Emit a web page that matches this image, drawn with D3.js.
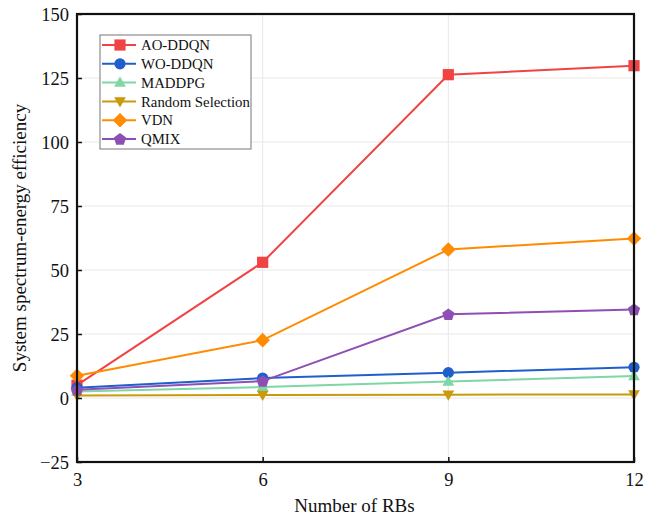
<!DOCTYPE html>
<html>
<head>
<meta charset="utf-8">
<script src="https://cdn.jsdelivr.net/npm/d3@7"></script>
<style>
  body { margin: 0; background: #fff; }
  svg text { font-family: "Liberation Serif", "Times New Roman", serif; fill: #111; }
</style>
</head>
<body>
<svg id="chart" width="657" height="519"></svg>
<script>
// Number of resource blocks on the x axis
const rbs = [3, 6, 9, 12];

// System spectrum-energy efficiency for each scheme
const aoDdqn   = [5.0, 53.0, 126.3, 129.8];
const woDdqn   = [4.0, 7.8, 9.9, 12.0];
const maddpg   = [2.5, 4.3, 6.4, 8.6];
const randomSel = [1.0, 1.2, 1.3, 1.4];
const vdn      = [8.7, 22.6, 58.0, 62.3];
const qmix     = [3.2, 6.6, 32.7, 34.6];

const seriesNames = ["AO-DDQN", "WO-DDQN", "MADDPG", "Random Selection", "VDN", "QMIX"];
const seriesValues = [aoDdqn, woDdqn, maddpg, randomSel, vdn, qmix];
const seriesColors = ["#f04444", "#1f5fcc", "#7fd6a6", "#c99a0c", "#ff8c00", "#8e4fb5"];
const seriesSymbols = ["square", "circle", "triUp", "triDown", "diamond", "pentagon"];

const yTicks = [-25, 0, 25, 50, 75, 100, 125, 150];
const xTicks = [3, 6, 9, 12];

const svg = d3.select("#chart");
const plotLeft = 77, plotRight = 634, plotTop = 14, plotBottom = 462;

const x = d3.scaleLinear().domain([3, 12]).range([plotLeft, plotRight]);
const y = d3.scaleLinear().domain([-25, 150]).range([plotBottom, plotTop]);

// Marker shapes; the size argument is the half-extent in pixels
function polygon(points) {
  return {
    draw(ctx, r) {
      points.forEach(([px, py], i) => {
        if (i === 0) ctx.moveTo(px * r, py * r); else ctx.lineTo(px * r, py * r);
      });
      ctx.closePath();
    }
  };
}
const pentPts = d3.range(5).map(i => {
  const a = -Math.PI / 2 + i * 2 * Math.PI / 5;
  return [Math.cos(a), Math.sin(a)];
});
const shapes = {
  square: polygon([[-1, -1], [1, -1], [1, 1], [-1, 1]]),
  circle: { draw(ctx, r) { ctx.moveTo(r, 0); ctx.arc(0, 0, r, 0, 2 * Math.PI); } },
  triUp: polygon([[0, -1.1], [1.05, 0.75], [-1.05, 0.75]]),
  triDown: polygon([[0, 1.1], [1.05, -0.75], [-1.05, -0.75]]),
  diamond: polygon([[0, -1.3], [1.3, 0], [0, 1.3], [-1.3, 0]]),
  pentagon: polygon(pentPts.map(([a, b]) => [a * 1.15, b * 1.15 + 0.1]))
};
const markerR = 5.6;
const marker = k => d3.symbol().type(shapes[seriesSymbols[k]]).size(markerR)();

// Gridlines
const grid = svg.append("g");
grid.selectAll("line.h").data(yTicks.filter(t => t > -25 && t < 150)).join("line")
  .attr("class", "h")
  .attr("x1", plotLeft).attr("x2", plotRight)
  .attr("y1", d => y(d)).attr("y2", d => y(d))
  .attr("stroke", "#e8e8e8").attr("stroke-width", 1);
grid.selectAll("line.v").data(xTicks.filter(t => t > 3 && t < 12)).join("line")
  .attr("class", "v")
  .attr("x1", d => x(d)).attr("x2", d => x(d))
  .attr("y1", plotTop).attr("y2", plotBottom)
  .attr("stroke", "#e8e8e8").attr("stroke-width", 1);

// Series lines and markers
const line = d3.line().x((d, i) => x(rbs[i])).y(d => y(d));
seriesValues.forEach((vals, k) => {
  const g = svg.append("g");
  g.append("path").datum(vals)
    .attr("d", line)
    .attr("fill", "none")
    .attr("stroke", seriesColors[k])
    .attr("stroke-width", 2);
  g.selectAll("path.m").data(vals).join("path")
    .attr("class", "m")
    .attr("transform", (d, i) => `translate(${x(rbs[i])},${y(d)})`)
    .attr("d", marker(k))
    .attr("fill", seriesColors[k]);
});

// Axes
const yAxis = d3.axisLeft(y).tickValues(yTicks).tickSize(-5).tickPadding(8).tickFormat(d3.format("d"));
const xAxis = d3.axisBottom(x).tickValues(xTicks).tickSize(-5).tickPadding(9);

const gy = svg.append("g").attr("transform", `translate(${plotLeft},0)`).call(yAxis);
const gx = svg.append("g").attr("transform", `translate(0,${plotBottom})`).call(xAxis);
[gx, gy].forEach(g => {
  g.select(".domain").remove();
  g.selectAll(".tick line").attr("stroke", "#111").attr("stroke-width", 1.5);
  g.selectAll(".tick text").style("font-size", "18.5px").style("font-family", "Liberation Serif, serif").attr("fill", "#111");
});
gy.selectAll(".tick text").attr("dy", "0.34em");
gx.selectAll(".tick text").attr("dy", "0.8em");

// Frame
svg.append("rect")
  .attr("x", plotLeft).attr("y", plotTop)
  .attr("width", plotRight - plotLeft).attr("height", plotBottom - plotTop)
  .attr("fill", "none").attr("stroke", "#111").attr("stroke-width", 2.2);

// Axis titles
svg.append("text")
  .attr("x", (plotLeft + plotRight) / 2 - 1).attr("y", 512)
  .attr("text-anchor", "middle")
  .style("font-size", "19px")
  .text("Number of RBs");
svg.append("text")
  .attr("transform", `translate(26,${(plotTop + plotBottom) / 2}) rotate(-90)`)
  .attr("text-anchor", "middle")
  .style("font-size", "19px")
  .text("System spectrum-energy efficiency");

// Legend
const lg = svg.append("g").attr("transform", "translate(100,35)");
lg.append("rect").attr("width", 151).attr("height", 114)
  .attr("fill", "#fff").attr("stroke", "#777").attr("stroke-width", 1);
seriesNames.forEach((name, k) => {
  const cy = 10 + k * 18.8;
  lg.append("line").attr("x1", 2).attr("x2", 36).attr("y1", cy).attr("y2", cy)
    .attr("stroke", seriesColors[k]).attr("stroke-width", 2);
  lg.append("path")
    .attr("transform", `translate(20,${cy})`)
    .attr("d", marker(k))
    .attr("fill", seriesColors[k]);
  lg.append("text").attr("x", 41).attr("y", cy).attr("dy", "0.35em")
    .style("font-size", "14.8px").text(name);
});
</script>
</body>
</html>
